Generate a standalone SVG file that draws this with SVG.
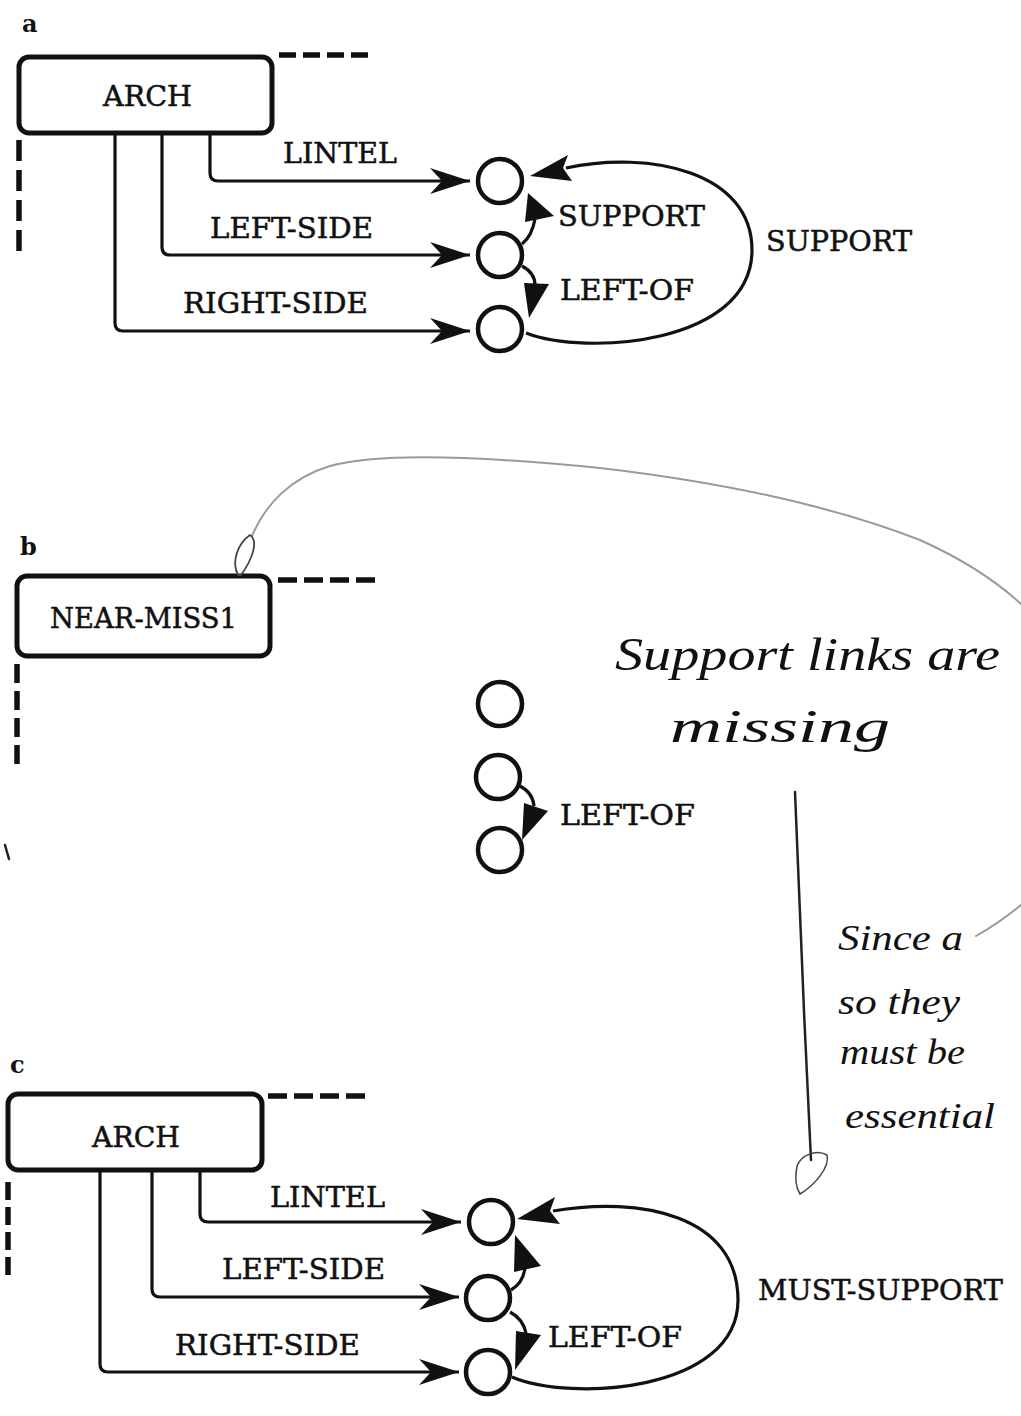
<svg xmlns="http://www.w3.org/2000/svg" width="1021" height="1416" viewBox="0 0 1021 1416">
<defs>
<style>
.lbl{font-family:"DejaVu Serif","Liberation Serif",serif;font-size:27px;fill:#111;stroke:#111;stroke-width:0.5}
.pl{font-family:"DejaVu Serif","Liberation Serif",serif;font-size:24px;font-weight:bold;fill:#111}
.hw{font-family:"Liberation Serif","DejaVu Serif",serif;font-style:italic;fill:#111}
.box{fill:#fff;stroke:#111;stroke-width:5}
.node{fill:#fff;stroke:#111;stroke-width:4.5}
.con{fill:none;stroke:#111;stroke-width:3.2}
.dash{fill:none;stroke:#111;stroke-width:5.5}
.head{fill:#111;stroke:none}
.pen{fill:none;stroke:#222;stroke-width:2.5;stroke-linecap:round}
.grey{fill:none;stroke:#9a9a9a;stroke-width:2;stroke-linecap:round}
</style>
<marker id="ah" markerUnits="userSpaceOnUse" markerWidth="42" markerHeight="28" refX="40" refY="13" orient="auto">
<path d="M0,0 L40,13 L0,26 L12,13 Z" fill="#111"/>
</marker>
</defs>
<rect width="1021" height="1416" fill="#fff"/>

<!-- panel labels -->
<text class="pl" x="22" y="32">a</text>
<text class="pl" x="20" y="555">b</text>
<text class="pl" x="10" y="1073">c</text>

<!-- ===== Panel a ===== -->
<g id="arch-a">
<rect class="box" x="19" y="57" width="253" height="76" rx="10"/>
<text class="lbl" x="103" y="106" textLength="89" lengthAdjust="spacingAndGlyphs">ARCH</text>
<line class="dash" x1="279" y1="55" x2="370" y2="55" stroke-dasharray="17 7"/>
<line class="dash" x1="19" y1="140" x2="19" y2="251" stroke-dasharray="21 9"/>
</g>
<g id="a-n1"><circle class="node" cx="500" cy="181" r="22"/></g>
<g id="a-n2"><circle class="node" cx="500" cy="255" r="22"/></g>
<g id="a-n3"><circle class="node" cx="500" cy="329" r="22"/></g>

<!-- ===== Panel b ===== -->
<g id="near-miss1">
<rect class="box" x="17" y="576" width="253" height="80" rx="10"/>
<text class="lbl" x="50" y="628" textLength="187" lengthAdjust="spacingAndGlyphs">NEAR-MISS1</text>
<line class="dash" x1="278" y1="580" x2="377" y2="580" stroke-dasharray="19 7"/>
<line class="dash" x1="17" y1="664" x2="17" y2="765" stroke-dasharray="19 8"/>
</g>
<g id="b-n1"><circle class="node" cx="500" cy="704" r="22"/></g>
<g id="b-n2"><circle class="node" cx="498" cy="777" r="22"/></g>
<g id="b-n3"><circle class="node" cx="500" cy="850" r="22"/></g>

<!-- ===== Panel c ===== -->
<g id="arch-c">
<rect class="box" x="8" y="1094" width="254" height="76" rx="10"/>
<text class="lbl" x="92" y="1147" textLength="88" lengthAdjust="spacingAndGlyphs">ARCH</text>
<line class="dash" x1="268" y1="1096" x2="365" y2="1096" stroke-dasharray="19 7"/>
<line class="dash" x1="8" y1="1182" x2="8" y2="1275" stroke-dasharray="18 7"/>
</g>
<g id="c-n1"><circle class="node" cx="491" cy="1222" r="22"/></g>
<g id="c-n2"><circle class="node" cx="488" cy="1298" r="22"/></g>
<g id="c-n3"><circle class="node" cx="488" cy="1372" r="22"/></g>

<!-- ===== Connectors ===== -->
<g id="connectors">
<!-- a -->
<path class="con" d="M210,134 V173 Q210,181 218,181 H470" marker-end="url(#ah)"/>
<path class="con" d="M162,134 V247 Q162,255 170,255 H470" marker-end="url(#ah)"/>
<path class="con" d="M115,134 V323 Q115,331 123,331 H470" marker-end="url(#ah)"/>
<path class="con" d="M522,244 Q532,236 535,219"/>
<polygon class="head" points="528,193 525,222 554,216"/>
<path class="con" d="M522,266 Q535,273 535,285"/>
<polygon class="head" points="524,283 549,284 529,318"/>
<path class="con" d="M526,333 C585,356 752,345 752,250 C752,172 650,150 566,168"/>
<polygon class="head" points="530,176 568,155 563,168 572,181"/>
<!-- b -->
<path class="con" d="M520,786 Q533,793 534,806"/>
<polygon class="head" points="524,803 548,811 522,840"/>
<!-- c -->
<path class="con" d="M200,1170 V1214 Q200,1222 208,1222 H461" marker-end="url(#ah)"/>
<path class="con" d="M152,1170 V1289 Q152,1297 160,1297 H459" marker-end="url(#ah)"/>
<path class="con" d="M100,1170 V1364 Q100,1372 108,1372 H459" marker-end="url(#ah)"/>
<path class="con" d="M511,1290 Q523,1283 525,1268"/>
<polygon class="head" points="515,1235 514,1272 541,1266"/>
<path class="con" d="M510,1312 Q523,1319 526,1333"/>
<polygon class="head" points="516,1331 541,1335 515,1370"/>
<path class="con" d="M512,1377 C570,1402 738,1392 738,1300 C738,1215 640,1196 553,1211"/>
<polygon class="head" points="517,1219 555,1197 550,1211 560,1224"/>
</g>

<!-- edge labels -->
<g id="labels">
<text class="lbl" x="283" y="163" textLength="114" lengthAdjust="spacingAndGlyphs">LINTEL</text>
<text class="lbl" x="210" y="238" textLength="163" lengthAdjust="spacingAndGlyphs">LEFT-SIDE</text>
<text class="lbl" x="183" y="313" textLength="185" lengthAdjust="spacingAndGlyphs">RIGHT-SIDE</text>
<text class="lbl" x="558" y="226" textLength="147" lengthAdjust="spacingAndGlyphs">SUPPORT</text>
<text class="lbl" x="560" y="300" textLength="134" lengthAdjust="spacingAndGlyphs">LEFT-OF</text>
<text class="lbl" x="766" y="251" textLength="146" lengthAdjust="spacingAndGlyphs">SUPPORT</text>
<text class="lbl" x="560" y="825" textLength="135" lengthAdjust="spacingAndGlyphs">LEFT-OF</text>
<text class="lbl" x="270" y="1207" textLength="115" lengthAdjust="spacingAndGlyphs">LINTEL</text>
<text class="lbl" x="222" y="1279" textLength="163" lengthAdjust="spacingAndGlyphs">LEFT-SIDE</text>
<text class="lbl" x="175" y="1355" textLength="185" lengthAdjust="spacingAndGlyphs">RIGHT-SIDE</text>
<text class="lbl" x="548" y="1347" textLength="134" lengthAdjust="spacingAndGlyphs">LEFT-OF</text>
<text class="lbl" x="758" y="1300" textLength="245" lengthAdjust="spacingAndGlyphs">MUST-SUPPORT</text>
</g>

<!-- handwritten annotations -->
<g id="annotations">
<path class="grey" d="M252,536 C265,505 290,478 330,466 C380,452 480,456 600,468 C720,482 830,505 920,540 C960,558 995,580 1021,604"/>
<path d="M238,575 C231,562 238,543 250,535 C259,541 252,560 241,575 Z" fill="none" stroke="#444" stroke-width="1.8"/>
<text class="hw" x="615" y="670" font-size="46" textLength="385" lengthAdjust="spacingAndGlyphs">Support links are</text>
<text class="hw" x="670" y="742" font-size="46" textLength="220" lengthAdjust="spacingAndGlyphs">missing</text>
<path class="pen" d="M795,792 C799,900 805,1040 811,1160"/>
<path d="M797,1166 C801,1155 816,1149 827,1155 C830,1167 815,1185 800,1194 C795,1186 795,1176 797,1166 Z" fill="none" stroke="#444" stroke-width="1.5"/>
<text class="hw" x="838" y="950" font-size="36" textLength="125" lengthAdjust="spacingAndGlyphs">Since a</text>
<path class="grey" d="M976,936 C990,928 1005,918 1021,905"/>
<text class="hw" x="838" y="1014" font-size="36" textLength="122" lengthAdjust="spacingAndGlyphs">so they</text>
<text class="hw" x="840" y="1064" font-size="36" textLength="125" lengthAdjust="spacingAndGlyphs">must be</text>
<text class="hw" x="845" y="1128" font-size="36" textLength="150" lengthAdjust="spacingAndGlyphs">essential</text>
<path class="pen" d="M5,845 L9,859" stroke-width="1.5"/>
</g>
</svg>
